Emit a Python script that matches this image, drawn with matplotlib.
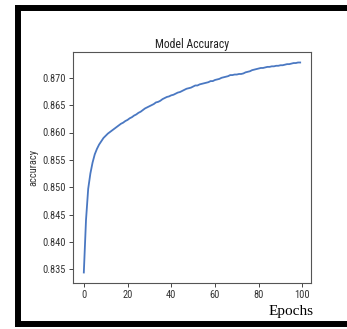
import matplotlib
matplotlib.use("Agg")
import matplotlib.pyplot as plt
from matplotlib import font_manager

epochs = list(range(100))
accuracy = [
    0.8344, 0.8440, 0.8497, 0.8525, 0.8545, 0.8560, 0.8570, 0.8578, 0.8584, 0.8590,
    0.8594, 0.8598, 0.8601, 0.8604, 0.8607, 0.8610, 0.8613, 0.8616, 0.8618, 0.8621,
    0.8623, 0.8626, 0.8628, 0.8631, 0.8633, 0.8636, 0.8638, 0.8641, 0.8644, 0.8646,
    0.8648, 0.8650, 0.8652, 0.8655, 0.8656, 0.8658, 0.8661, 0.8663, 0.8665, 0.8666,
    0.8668, 0.8669, 0.8671, 0.8673, 0.8674, 0.8676, 0.8678, 0.8680, 0.8681, 0.8682,
    0.8684, 0.8686, 0.8686, 0.8688, 0.8689, 0.8690, 0.8691, 0.8692, 0.8694, 0.8694,
    0.8696, 0.8697, 0.8698, 0.8700, 0.8701, 0.8702, 0.8703, 0.8705, 0.8705, 0.8706,
    0.8706, 0.8707, 0.8707, 0.8708, 0.8710, 0.8711, 0.8712, 0.8714, 0.8715, 0.8716,
    0.8717, 0.8718, 0.8718, 0.8719, 0.8720, 0.8720, 0.8721, 0.8721, 0.8722, 0.8722,
    0.8723, 0.8723, 0.8724, 0.8725, 0.8725, 0.8726, 0.8727, 0.8727, 0.8728, 0.8728,
]
xticks = [0, 20, 40, 60, 80, 100]
yticks = [0.835, 0.840, 0.845, 0.850, 0.855, 0.860, 0.865, 0.870]

names = {f.name for f in font_manager.fontManager.ttflist}
narrow = "DejaVu Sans"
for cand in ["Roboto Condensed", "Fira Sans Condensed", "Open Sans Condensed",
             "PT Sans Narrow", "Liberation Sans Narrow", "Archivo Narrow",
             "IBM Plex Sans Condensed", "Encode Sans Condensed", "Asap Condensed",
             "Pragati Narrow", "Barlow Semi Condensed"]:
    if cand in names:
        narrow = cand
        break

W, H = 347, 329
fig = plt.figure(figsize=(W / 100, H / 100), dpi=100)
fig.patch.set_facecolor("white")

# outer black frame: left, top, bottom (right side runs off the image)
lw = 4.3
for xs, ys in [([18, 18], [8, 324]), ([18, 360], [8, 8]), ([18, 360], [324, 324])]:
    fig.add_artist(plt.Line2D([x / W for x in xs], [1 - y / H for y in ys],
                              transform=fig.transFigure, color="black",
                              linewidth=lw, solid_capstyle="projecting"))

ax = fig.add_axes([73 / W, 1 - 283 / H, 238 / W, 231 / H])
ax.plot(epochs, accuracy, color="#4a78c2", linewidth=1.3)
ax.set_xticks(xticks)
ax.set_yticks(yticks)
ax.set_xticklabels([str(t) for t in xticks])
ax.set_yticklabels([f"{t:.3f}" for t in yticks])
for lab in ax.get_xticklabels() + ax.get_yticklabels():
    lab.set_fontfamily(narrow)
    lab.set_fontsize(7.5)
    lab.set_color("#333333")
ax.tick_params(length=3, width=0.7, color="#444444", pad=2)
for s in ax.spines.values():
    s.set_color("#555555")
    s.set_linewidth(0.8)
ax.set_title("Model Accuracy", fontfamily=narrow, fontsize=8.5, color="#222222", pad=3)
ax.set_ylabel("accuracy", fontfamily=narrow, fontsize=7.5, color="#333333", labelpad=3)

fig.text(291 / W, 1 - 312 / H, "Epochs", fontfamily="Liberation Serif",
         fontsize=11, ha="center", va="center", color="black")

fig.savefig("out.png", dpi=100, facecolor="white")
